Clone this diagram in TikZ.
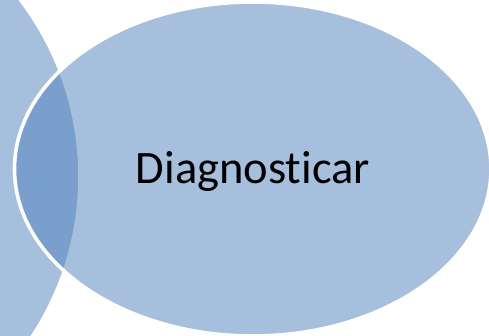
\documentclass[tikz,border=0pt]{standalone}
\usepackage{fontspec}
\setmainfont[Ligatures=NoCommon]{Carlito}
\definecolor{accent}{HTML}{4F81BD}
\tikzset{
  venn/.style={fill=accent, fill opacity=0.5, draw=white, draw opacity=1, line width=3.6pt},
  label/.style={font=\fontsize{46.5}{50}\selectfont, text=black, inner sep=0pt, anchor=base}
}
\begin{document}
\begin{tikzpicture}[x=1pt,y=-1pt]
\useasboundingbox (0,0) rectangle (489,335);
\clip (0,0) rectangle (489,335);
\fill[white] (0,0) rectangle (489,335);
\path[venn] (-212,176.5) circle [radius=292];
\path[venn] (252.75,169) ellipse [x radius=238.25, y radius=167];
\node[label] (diag) at (253,183.5) {Diagnosticar};
\end{tikzpicture}
\end{document}
